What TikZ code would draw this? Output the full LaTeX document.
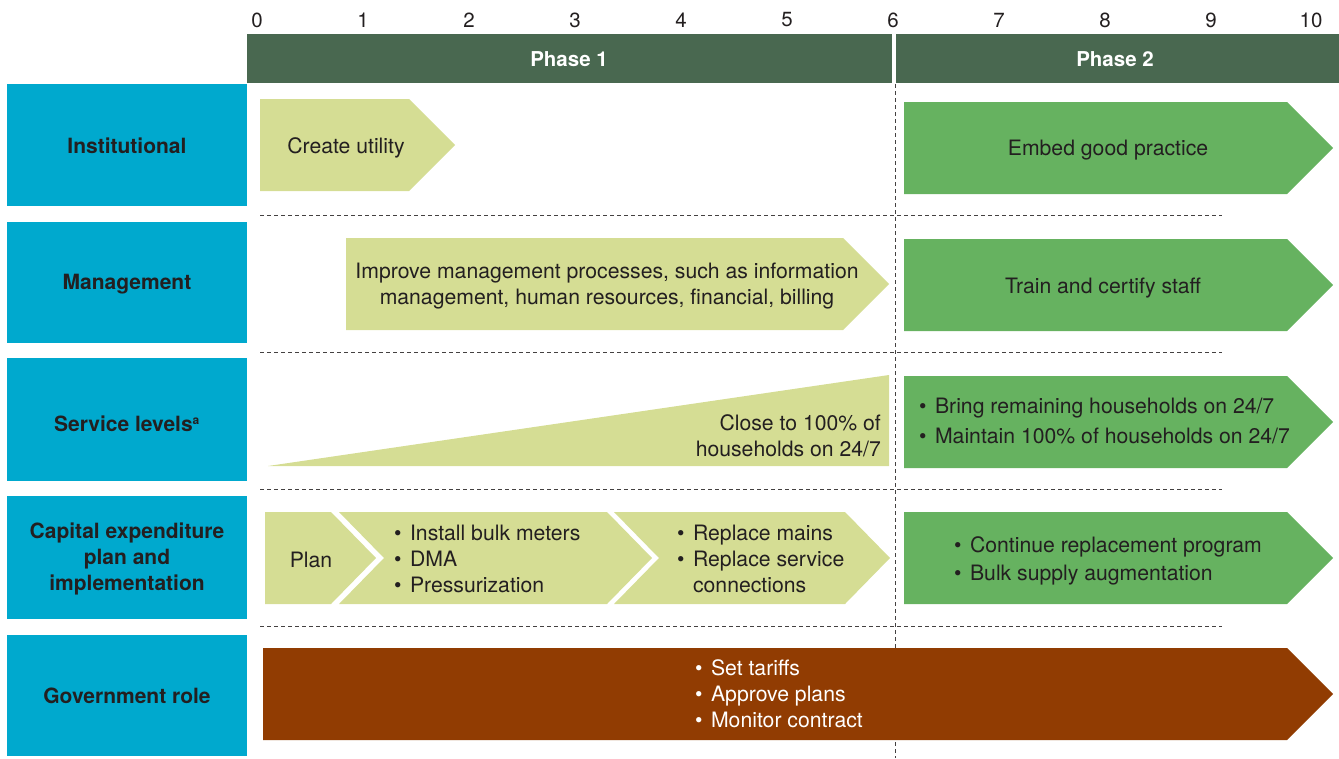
\documentclass[tikz,border=0pt]{standalone}
\usepackage{fontspec}
\setmainfont{TeX Gyre Heros}
\usetikzlibrary{positioning}

\definecolor{phasegreen}{RGB}{73,104,80}
\definecolor{rowblue}{RGB}{0,169,206}
\definecolor{paleleaf}{RGB}{213,221,148}
\definecolor{leaf}{RGB}{102,178,96}
\definecolor{rust}{RGB}{145,60,2}
\definecolor{ink}{RGB}{35,31,32}

\tikzset{
  txt/.style={font=\fontsize{21.2}{26}\selectfont,text=ink,inner sep=0pt},
  rowlabel/.style={txt,font=\bfseries\fontsize{21}{26}\selectfont,align=center},
  phaselabel/.style={txt,text=white,font=\bfseries\fontsize{20.5}{25.5}\selectfont},
  rowsep/.style={draw=ink!85,line width=0.9pt,dash pattern=on 4pt off 3pt},
}

\begin{document}
\begin{tikzpicture}[x=1pt,y=-1pt]
  \useasboundingbox (0,0) rectangle (1339,758);

  % time axis
  \foreach \t in {0,...,9}
    \node[txt,font=\fontsize{20.5}{25}\selectfont] (tick\t) at ({257+106*\t},20) {\t};
  \node[txt,font=\fontsize{20.5}{25}\selectfont] (tick10) at (1311,20) {10};

  % phase bars
  \fill[phasegreen] (247,34) rectangle (892,83);
  \fill[phasegreen] (896,34) rectangle (1339,83);
  \node[phaselabel] (phase1) at (569,59) {Phase 1};
  \node[phaselabel] (phase2) at (1115,59) {Phase 2};

  % row labels
  \fill[rowblue] (7,84) rectangle (247,206);
  \fill[rowblue] (7,222) rectangle (247,343);
  \fill[rowblue] (7,358) rectangle (247,481);
  \fill[rowblue] (7,496) rectangle (247,619);
  \fill[rowblue] (7,635) rectangle (247,756);
  \node[rowlabel] (inst) at (127,146) {Institutional};
  \node[rowlabel] (mgmt) at (127,284) {Management};
  \node[rowlabel] (serv) at (127,424) {Service levels\textsuperscript{\fontsize{12}{12}\selectfont a}};
  \node[rowlabel] (capex) at (127,559) {Capital expenditure\\plan and\\implementation};
  \node[rowlabel] (gov) at (127,696) {Government role};

  % separators
  \foreach \y in {215,352,489,626}
    \draw[rowsep] (260,\y) -- (1222,\y);
  \draw[rowsep] (895,84) -- (895,758);

  % institutional
  \fill[paleleaf] (260,99) -- (409,99) -- (455,145) -- (409,191) -- (260,191) -- cycle;
  \fill[leaf] (904,102) -- (1287,102) -- (1333,148) -- (1287,194) -- (904,194) -- cycle;
  \node[txt] (create) at (346,148) {Create utility};
  \node[txt] (embed) at (1108,150) {Embed good practice};

  % management
  \fill[paleleaf] (346,238) -- (843,238) -- (889,284) -- (843,330) -- (346,330) -- cycle;
  \fill[leaf] (904,239) -- (1287,239) -- (1333,285) -- (1287,331) -- (904,331) -- cycle;
  \node[txt,align=center] (improve) at (607,286)
    {Improve management processes, such as information\\management, human resources, financial, billing};
  \node[txt] (train) at (1103,288) {Train and certify staff};

  % service levels
  \fill[paleleaf] (268,466) -- (889,375) -- (889,466) -- cycle;
  \fill[leaf] (904,376) -- (1287,376) -- (1333,422) -- (1287,468) -- (904,468) -- cycle;
  \node[txt,align=right,anchor=east] (close) at (881,436) {Close to 100\% of\\households on 24/7};
  \node[txt,align=left,anchor=west] (bring) at (919,421)
    {\textbullet\hspace{0.4em}Bring remaining households on 24/7\\[4pt]\textbullet\hspace{0.4em}Maintain 100\% of households on 24/7};

  % capital expenditure
  \fill[paleleaf] (265,512) -- (331,512) -- (376,558) -- (331,604) -- (265,604) -- cycle;
  \fill[paleleaf] (339,512) -- (607,512) -- (652,558) -- (607,604) -- (339,604) -- (384,558) -- cycle;
  \fill[paleleaf] (614,512) -- (845,512) -- (890,558) -- (845,604) -- (614,604) -- (659,558) -- cycle;
  \fill[leaf] (904,512) -- (1287,512) -- (1333,558) -- (1287,604) -- (904,604) -- cycle;
  \node[txt] (plan) at (311,560) {Plan};
  \node[txt,align=left,anchor=west] (meters) at (394,559)
    {\textbullet\hspace{0.4em}Install bulk meters\\\textbullet\hspace{0.4em}DMA\\\textbullet\hspace{0.4em}Pressurization};
  \node[txt,align=left,anchor=west] (mains) at (677,559)
    {\textbullet\hspace{0.4em}Replace mains\\\textbullet\hspace{0.4em}Replace service\\\phantom{\textbullet}\hspace{0.4em}connections};
  \node[txt,align=left,anchor=west] (renew) at (954,561)
    {\textbullet\hspace{0.4em}Continue replacement program\\[2pt]\textbullet\hspace{0.4em}Bulk supply augmentation};

  % government role
  \fill[rust] (263,648) -- (1287,648) -- (1333,694) -- (1287,740) -- (263,740) -- cycle;
  \node[txt,text=white,align=left,anchor=west] (tariffs) at (695,694)
    {\textbullet\hspace{0.4em}Set tariffs\\\textbullet\hspace{0.4em}Approve plans\\\textbullet\hspace{0.4em}Monitor contract};
\end{tikzpicture}
\end{document}
